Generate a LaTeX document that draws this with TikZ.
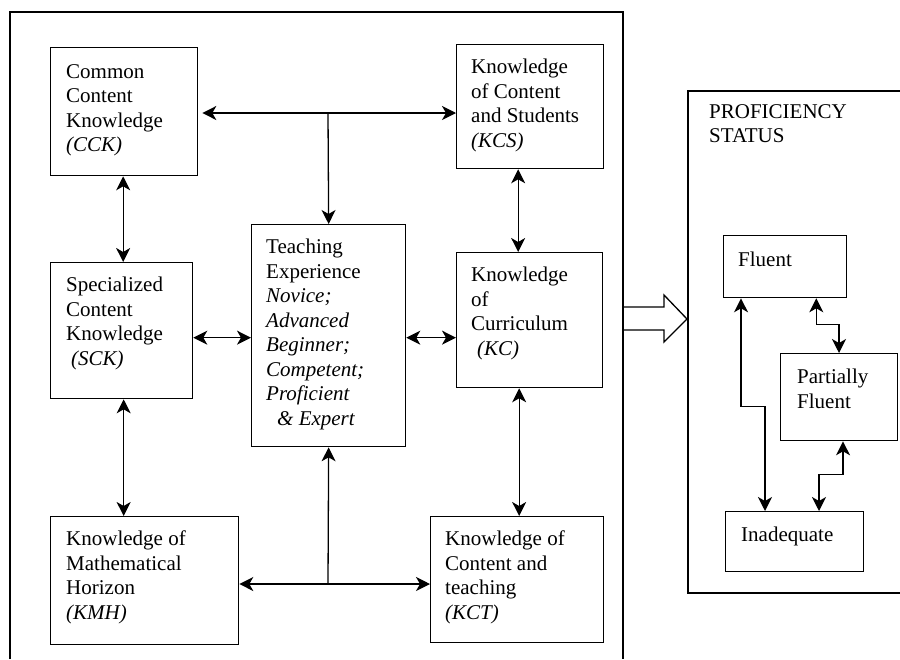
\documentclass[tikz,border=0pt]{standalone}
\usepackage{fontspec}
\setmainfont{Liberation Serif}
\usetikzlibrary{arrows.meta, positioning}

\tikzset{
  blk/.style = {draw, line width = 1.3pt, inner sep = 0pt, anchor = north west},
  txt/.style = {inner sep = 0pt, anchor = north west, align = left,
                font = \fontsize{21}{24.5}\selectfont},
  dbl/.style = {line width = 1.3pt, {Stealth[length=14pt,width=14pt,inset=4pt]}-{Stealth[length=14pt,width=14pt,inset=4pt]}},
  sgl/.style = {line width = 1.3pt, -{Stealth[length=14pt,width=14pt,inset=4pt]}}
}

\begin{document}
\begin{tikzpicture}[x = 1pt, y = -1pt]
\useasboundingbox (0,0) rectangle (900,659);

% frames
\draw[line width = 1.3pt] (10,659) -- (10,12) -- (623,12) -- (623,659);
\draw[line width = 1.3pt] (900,91) -- (688,91) -- (688,593) -- (900,593);

% knowledge boxes
\node[blk, minimum width = 147, minimum height = 128](cck) at (50,47) {};
\node[blk, minimum width = 142, minimum height = 136](sck) at (50,262) {};
\node[blk, minimum width = 154, minimum height = 222](teach) at (251,224) {};
\node[blk, minimum width = 188, minimum height = 128](kmh) at (50,516) {};
\node[blk, minimum width = 147, minimum height = 124](kcs) at (456,44) {};
\node[blk, minimum width = 146, minimum height = 135](kc) at (456,252) {};
\node[blk, minimum width = 173, minimum height = 126](kct) at (430,516) {};

\node[txt] at ([shift={(16,17)}]cck.north west) {Common\\Content\\Knowledge\\\textit{(CCK)}};
\node[txt] at ([shift={(16,15)}]sck.north west) {Specialized\\Content\\Knowledge\\\hspace{5pt}\textit{(SCK)}};
\node[txt] at ([shift={(15,15)}]teach.north west) {Teaching\\Experience\\\textit{Novice;}\\\textit{Advanced}\\\textit{Beginner;}\\\textit{Competent;}\\\textit{Proficient}\\\hspace{11pt}\textit{\& Expert}};
\node[txt] at ([shift={(16,15)}]kmh.north west) {Knowledge of\\Mathematical\\Horizon\\\textit{(KMH)}};
\node[txt] at ([shift={(15,15)}]kcs.north west) {Knowledge\\of Content\\and Students\\\textit{(KCS)}};
\node[txt] at ([shift={(15,15)}]kc.north west) {Knowledge\\of\\Curriculum\\\hspace{6pt}\textit{(KC)}};
\node[txt] at ([shift={(15,15)}]kct.north west) {Knowledge of\\Content and\\teaching\\\textit{(KCT)}};

% proficiency boxes
\node[txt] (prof) at (709,104) {PROFICIENCY\\STATUS};
\node[blk, minimum width = 123, minimum height = 62](flu) at (723,235) {};
\node[blk, minimum width = 117, minimum height = 87](part) at (780,353) {};
\node[blk, minimum width = 138, minimum height = 60](inad) at (725,511) {};
\node[txt] at ([shift={(15,17)}]flu.north west) {Fluent};
\node[txt] at ([shift={(17,16)}]part.north west) {Partially\\Fluent};
\node[txt] at ([shift={(16,16)}]inad.north west) {Inadequate};

% connectors
\coordinate (top) at (328,113);
\coordinate (bot) at (328,584);
\draw[dbl] ([xshift=4]cck.east |- top) -- (kcs.west |- top);
\draw[sgl] (top) -- (teach.north);
\draw[dbl] (kmh.east |- bot) -- (kct.west |- bot);
\draw[sgl] (bot) -- (teach.south);
\draw[dbl] ([xshift=-1]cck.south) -- ([xshift=-1]cck.south |- sck.north);
\draw[dbl] ([xshift=2]sck.south) -- ([xshift=2]sck.south |- kmh.north);
\draw[dbl] ([yshift=-2]sck.east |- teach.west) -- ([yshift=-2]teach.west);
\draw[dbl] ([yshift=-2]teach.east) -- ([yshift=-2]kc.west |- teach.east);
\draw[dbl] ([xshift=-12]kcs.south) -- ([xshift=-12]kcs.south |- kc.north);
\draw[dbl] ([xshift=2]kct.north |- kc.south) -- ([xshift=2]kct.north);

% hollow arrow
\draw[line width = 1.3pt, fill = white] (624,307) -- (664,307) -- (664,295) -- (687,319)
  -- (664,342) -- (664,330) -- (624,330);

\draw[dbl] ([xshift=18]flu.south west) -- ++(0,108) -| ([xshift=40]inad.north west);
\draw[dbl] ([xshift=-31]flu.south east) -- ++(0,26) -| ([xshift=59]part.north west);
\draw[dbl] ([xshift=63]part.south west) -- ++(0,33) -| ([xshift=94]inad.north west);
\end{tikzpicture}
\end{document}
